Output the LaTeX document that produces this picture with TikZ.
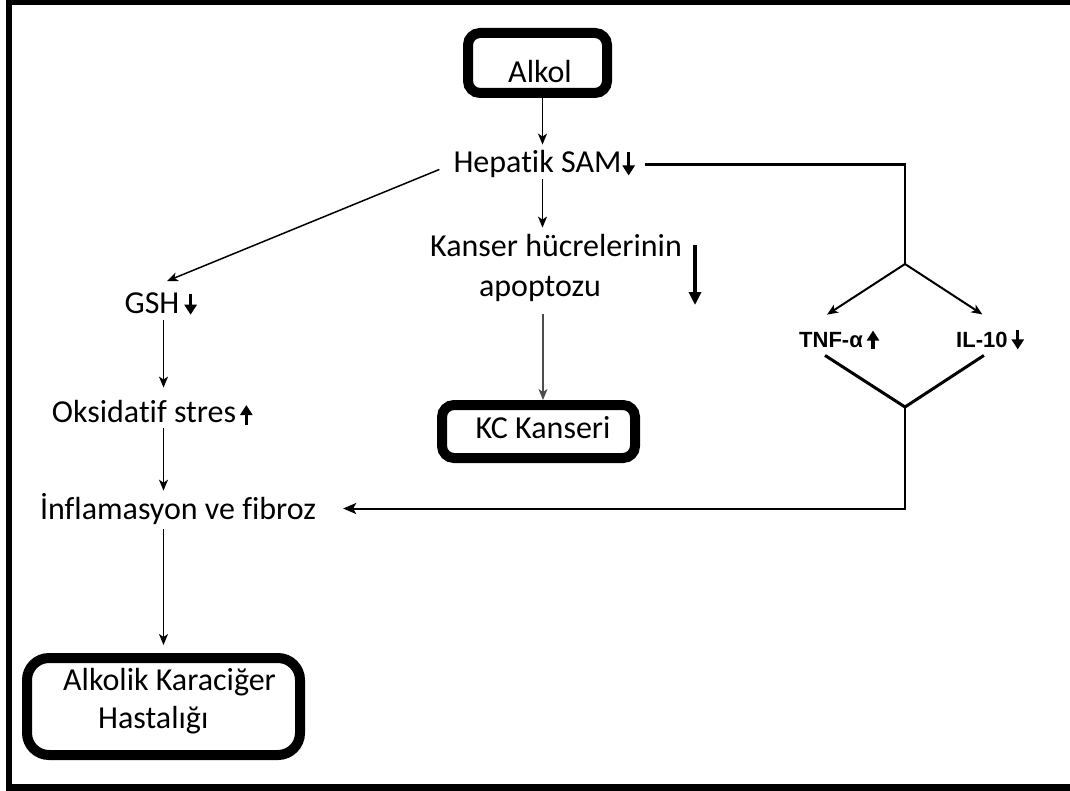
\documentclass[tikz,border=0pt]{standalone}
\usepackage{fontspec}
\setmainfont{Carlito}[Ligatures={NoCommon,NoRequired,NoContextual}]
\newfontfamily\labelsans{Liberation Sans}
\usetikzlibrary{arrows.meta,calc}
\begin{document}
\begin{tikzpicture}[x=1pt,y=-1pt,
  txt/.style={inner sep=0pt, font=\fontsize{32}{37}\selectfont},
  cyto/.style={inner sep=0pt, font=\labelsans\bfseries\fontsize{22}{25}\selectfont},
  termbox/.style={draw, line width=10pt, rounded corners=12pt, inner sep=0pt},
  arr/.style={line width=1.5pt, -{Stealth[length=11pt,width=9pt,inset=3pt]}},
  boldarr/.style={line width=2.5pt, -{Stealth[length=13pt,width=11pt,inset=3pt]}},
  updown/.style={line width=3.2pt, -{Triangle[length=10pt,width=12pt]}},
  bigdown/.style={line width=3.5pt, -{Triangle[length=13pt,width=12pt]}},
  branch/.style={line width=2.5pt},
  vee/.style={line width=3pt},
]
\useasboundingbox (0,0) rectangle (1070,791);
% frame
\fill (6,0) rectangle (1070,5);
\fill (6,784) rectangle (1070,791);
\fill (6,0) rectangle (12,791);

% terminal boxes
\node[termbox, minimum width=139pt, minimum height=60pt] (alkolbox) at (537.5,63) {};
\node[txt, anchor=base] (alkol) at (540,83) {Alkol};
\node[termbox, minimum width=193pt, minimum height=53pt] (kcbox) at (538.5,431.5) {};
\node[txt, anchor=base] (kc) at (543,438) {KC Kanseri};
\node[termbox, rounded corners=22pt, minimum width=273pt, minimum height=97pt] (akhbox) at (163.5,706.5) {};
\node[txt, anchor=base west] (akh1) at (63,690) {Alkolik Karaciğer};
\node[txt, anchor=base west] (akh2) at (98,728) {Hastalığı};

% text nodes
\node[txt, anchor=base] (hepatik) at (537.5,173) {Hepatik SAM};
\node[txt, anchor=base] (kanser1) at (556,257) {Kanser hücrelerinin};
\node[txt, anchor=base] (apop) at (540,297) {apoptozu};
\node[txt, anchor=base] (gsh) at (152,313) {GSH};
\node[txt, anchor=base] (oks) at (144,422) {Oksidatif stres};
\node[txt, anchor=base] (inf) at (178,519) {İnflamasyon ve fibroz};
\node[cyto, anchor=base west] (tnf) at (799,347) {TNF-α};
\node[cyto, anchor=base west] (il) at (956,347) {IL-10};

% level markers
\draw[updown] ([shift={(7,-12)}]hepatik.east) -- ++(0,23);
\draw[updown] ([shift={(11,-9)}]gsh.east) -- ++(0,21);
\draw[updown] ([shift={(10,14)}]oks.east) -- ++(0,-20);
\draw[updown] ([shift={(10,9)}]tnf.east) -- ++(0,-18);
\draw[updown] ([shift={(10,-9)}]il.east) -- ++(0,19);
\draw[bigdown] ([shift={(13,-1)}]kanser1.east) -- ++(0,60);

% central column
\draw[arr, shorten >=6pt] ([xshift=5pt]alkolbox.south) -- ([xshift=5pt]alkolbox.south |- hepatik.north);
\draw[arr, shorten <=1pt, shorten >=7pt] ([xshift=5pt]hepatik.south) -- ([xshift=5pt]hepatik.south |- kanser1.north);
\draw[arr, gray!60!black, shorten <=12pt] ([xshift=4.5pt]kcbox.north |- apop.south) -- ([xshift=4.5pt]kcbox.north);

% left column
\draw[arr] ([shift={(-14,5)}]hepatik.west) -- ([shift={(15,-11)}]gsh.north);
\draw[arr, shorten <=7pt, shorten >=12pt] (gsh.south -| akhbox.north) -- (oks.north -| akhbox.north);
\draw[arr, shorten <=6pt, shorten >=2pt] (oks.south -| akhbox.north) -- (inf.north -| akhbox.north);
\draw[arr, shorten <=5pt, shorten >=8pt] (inf.south -| akhbox.north) -- (akhbox.north);

% cytokine branch
\coordinate (split) at (905,264);
\coordinate (join) at (905,407);
\draw[branch] ([xshift=23pt]hepatik.east) -| (split);
\draw[arr, line width=2pt] (split) -- ([shift={(-4,-17)}]tnf.north);
\draw[arr, line width=2pt] (split) -- ([shift={(0.5,-17)}]il.north);
\draw[vee, line join=miter] ([shift={(-6,8)}]tnf.south) -- (join) -- ([shift={(2,8)}]il.south);
\draw[boldarr, line width=2pt, shorten >=27pt] (join) |- (inf.east);
\end{tikzpicture}
\end{document}
